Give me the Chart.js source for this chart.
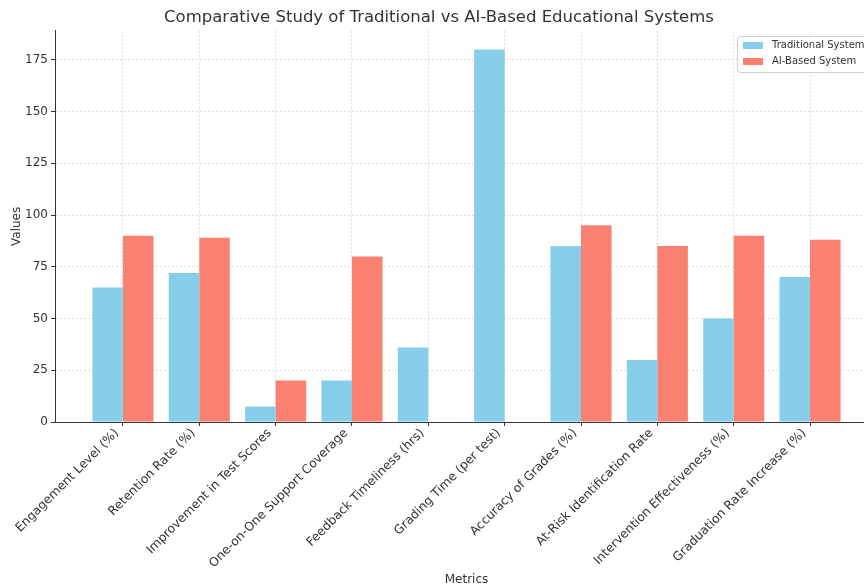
<!DOCTYPE html>
<html>
<head>
<meta charset="utf-8">
<script src="https://cdn.jsdelivr.net/npm/chart.js@4.4.1/dist/chart.umd.min.js"></script>
<style>
  html, body { margin: 0; padding: 0; overflow: hidden; background: #ffffff; }
  canvas { display: block; }
</style>
</head>
<body>
<canvas id="chart" width="933" height="587"></canvas>
<script>
// Metrics compared between the two systems
const metrics = [
  'Engagement Level (%)',
  'Retention Rate (%)',
  'Improvement in Test Scores',
  'One-on-One Support Coverage',
  'Feedback Timeliness (hrs)',
  'Grading Time (per test)',
  'Accuracy of Grades (%)',
  'At-Risk Identification Rate',
  'Intervention Effectiveness (%)',
  'Graduation Rate Increase (%)'
];
const traditional = [65, 72, 7.5, 20, 36, 180, 85, 30, 50, 70];
const aiBased     = [90, 89, 20, 80, 0, 0, 95, 85, 90, 88];
const yTicks = [0, 25, 50, 75, 100, 125, 150, 175];
const seriesNames = ['Traditional System', 'AI-Based System'];
const seriesColors = ['#87CEEB', '#FA8072'];

Chart.defaults.font.family = "'DejaVu Sans', sans-serif";
Chart.defaults.color = '#333333';

const toPoints = vals => vals.map((v, i) => ({ x: i, y: v }));

// Legend box drawn inside the plot, upper right
const insideLegend = {
  id: 'insideLegend',
  afterDraw(chart) {
    const ctx = chart.ctx;
    const x0 = 737, y0 = 36, w = 160, h = 36;
    ctx.save();
    ctx.beginPath();
    ctx.roundRect(x0 + 0.5, y0 + 0.5, w, h, 3);
    ctx.fillStyle = 'rgba(255,255,255,0.85)';
    ctx.fill();
    ctx.strokeStyle = '#d0d0d0';
    ctx.lineWidth = 1;
    ctx.stroke();
    ctx.font = "10px 'DejaVu Sans', sans-serif";
    ctx.textBaseline = 'middle';
    seriesNames.forEach((name, i) => {
      const cy = y0 + 9 + i * 16;
      ctx.fillStyle = seriesColors[i];
      ctx.fillRect(x0 + 6, cy - 3, 20, 7);
      ctx.fillStyle = '#333333';
      ctx.fillText(name, x0 + 35, cy);
    });
    ctx.restore();
  }
};

const gridStyle = {
  color: '#d4d4d4',
  lineWidth: 0.8,
  offset: false,
  tickLength: 4,
  tickColor: '#333333',
  tickBorderDash: [],
  tickWidth: 1
};

new Chart(document.getElementById('chart'), {
  type: 'bar',
  data: {
    datasets: [
      { label: seriesNames[0], data: toPoints(traditional), backgroundColor: seriesColors[0], borderWidth: 0 },
      { label: seriesNames[1], data: toPoints(aiBased), backgroundColor: seriesColors[1], borderWidth: 0 }
    ]
  },
  options: {
    responsive: false,
    animation: false,
    devicePixelRatio: 1,
    layout: { padding: { left: 0, right: 55, top: 0, bottom: 0 } },
    datasets: { bar: { categoryPercentage: 0.8, barPercentage: 1.0 } },
    plugins: {
      legend: { display: false },
      tooltip: { enabled: false },
      title: {
        display: true,
        text: 'Comparative Study of Traditional vs AI-Based Educational Systems',
        color: '#333333',
        font: { size: 16.5, weight: 'normal' },
        padding: { top: 8, bottom: 3 }
      }
    },
    scales: {
      x: {
        type: 'linear',
        min: -0.89,
        max: 9.89,
        offset: false,
        afterBuildTicks: s => { s.ticks = metrics.map((_, i) => ({ value: i })); },
        afterFit: s => { s.height = 165; },
        ticks: {
          autoSkip: false,
          maxRotation: 45,
          minRotation: 45,
          padding: 0,
          labelOffset: -6,
          color: '#333333',
          font: { size: 12.3 },
          callback: v => metrics[v]
        },
        grid: gridStyle,
        border: { display: true, color: '#333333', width: 1, dash: [2, 2] },
        title: {
          display: true,
          text: 'Metrics',
          color: '#333333',
          font: { size: 12 },
          padding: { top: 2, bottom: 0 }
        }
      },
      y: {
        min: 0,
        max: 189,
        afterBuildTicks: s => { s.ticks = yTicks.map(v => ({ value: v })); },
        afterFit: s => { s.width = 55; },
        ticks: {
          padding: 3,
          color: '#333333',
          font: { size: 12 }
        },
        grid: gridStyle,
        border: { display: true, color: '#333333', width: 1, dash: [2, 2] },
        title: {
          display: true,
          text: 'Values',
          color: '#333333',
          font: { size: 12 },
          padding: { top: 10, bottom: 2 }
        }
      }
    }
  },
  plugins: [insideLegend]
});
</script>
</body>
</html>
